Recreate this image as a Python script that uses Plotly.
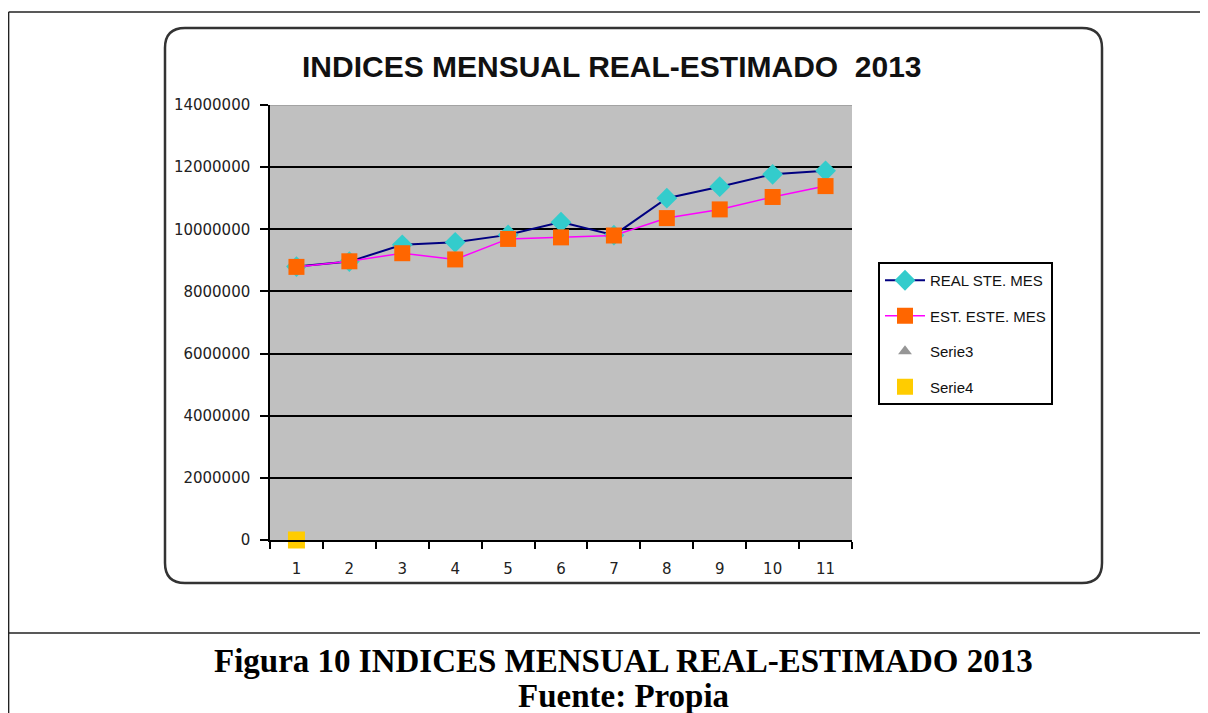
import plotly.graph_objects as go

# ---------------- data ----------------
months = ["1", "2", "3", "4", "5", "6", "7", "8", "9", "10", "11"]
real_ste_mes = [8800000, 8960000, 9500000, 9580000, 9820000, 10230000,
                9810000, 11000000, 11370000, 11770000, 11880000]
est_este_mes = [8790000, 8970000, 9230000, 9030000, 9690000, 9740000,
                9800000, 10360000, 10640000, 11040000, 11390000]
serie4_x = ["1"]
serie4_y = [0]
y_ticks = [0, 2000000, 4000000, 6000000, 8000000, 10000000, 12000000, 14000000]

title_text = "INDICES MENSUAL REAL-ESTIMADO  2013"
caption_1 = "Figura 10 INDICES MENSUAL REAL-ESTIMADO 2013"
caption_2 = "Fuente: Propia"

W, H = 1208, 713
OFF = 8  # page body margin offset


def px(x):
    return (x - OFF) / W


def py(y):
    return 1 - (y - OFF) / H


fig = go.Figure()

fig.add_trace(go.Scatter(
    x=months, y=real_ste_mes, name="REAL STE. MES", mode="lines+markers",
    line=dict(color="#000080", width=2),
    marker=dict(symbol="diamond", size=16, color="#33CCCC"),
    legendgroup="a", cliponaxis=False))
fig.add_trace(go.Scatter(
    x=months, y=est_este_mes, name="EST. ESTE. MES", mode="lines+markers",
    line=dict(color="#FF00FF", width=1.5),
    marker=dict(symbol="square", size=16, color="#FF6600"),
    legendgroup="b", cliponaxis=False))
fig.add_trace(go.Scatter(
    x=[None], y=[None], name="Serie3", mode="markers",
    marker=dict(symbol="triangle-up", size=12, color="#969696"),
    legendgroup="c"))
fig.add_trace(go.Scatter(
    x=serie4_x, y=serie4_y, name="Serie4", mode="markers",
    marker=dict(symbol="square", size=17, color="#FFCC00"),
    legendgroup="d", cliponaxis=False))

tick_font = dict(family="DejaVu Sans", size=15, color="#222222")

fig.update_xaxes(
    type="category", categoryorder="array", categoryarray=months,
    range=[-0.5, len(months) - 0.5],
    domain=[px(270), px(852)], automargin=False,
    tickson="boundaries", ticks="outside", ticklen=7, tickwidth=1.5,
    tickcolor="black", showline=True, linecolor="black", linewidth=1.5,
    showgrid=False, tickfont=tick_font, zeroline=False,
    ticklabelstandoff=14)
fig.update_yaxes(
    range=[0, 14000000], tickvals=y_ticks, tickformat="d",
    domain=[py(540), py(105)], automargin=False,
    ticks="outside", ticklen=8, tickwidth=1.5, tickcolor="black",
    showline=True, linecolor="black", linewidth=1.5,
    showgrid=True, gridcolor="black", gridwidth=1.6,
    zeroline=False, tickfont=tick_font, ticklabelstandoff=7)

# shapes: document table lines and rounded chart frame
r = 20
x0, x1, y0, y1 = 165, 1102, 28, 583
frame_path = (
    f"M {px(x0 + r)} {py(y0)} L {px(x1 - r)} {py(y0)} "
    f"Q {px(x1)} {py(y0)} {px(x1)} {py(y0 + r)} "
    f"L {px(x1)} {py(y1 - r)} Q {px(x1)} {py(y1)} {px(x1 - r)} {py(y1)} "
    f"L {px(x0 + r)} {py(y1)} Q {px(x0)} {py(y1)} {px(x0)} {py(y1 - r)} "
    f"L {px(x0)} {py(y0 + r)} Q {px(x0)} {py(y0)} {px(x0 + r)} {py(y0)} Z"
)

shapes = [
    dict(type="line", xref="paper", yref="paper", x0=0.0005, x1=1.0,
         y0=py(12), y1=py(12), line=dict(color="#222222", width=1.5)),
    dict(type="line", xref="paper", yref="paper", x0=0.0005, x1=0.0005,
         y0=py(12), y1=0, line=dict(color="#222222", width=1.5)),
    dict(type="line", xref="paper", yref="paper", x0=0.0005, x1=1.0,
         y0=py(633), y1=py(633), line=dict(color="#222222", width=1.5)),
    dict(type="path", xref="paper", yref="paper", path=frame_path,
         line=dict(color="#333333", width=2.5)),
    # light top border of the plot area (replaces the black top gridline)
    dict(type="line", xref="paper", yref="y", x0=px(270), x1=px(852),
         y0=y_ticks[-1], y1=y_ticks[-1], layer="above",
         line=dict(color="#9a9a9a", width=1.6)),
]

annotations = [
    dict(text=f"<b>{title_text}</b>", xref="paper", yref="paper",
         x=px(612), y=py(66), xanchor="center", yanchor="middle",
         showarrow=False,
         font=dict(family="Liberation Sans", size=30, color="#111111")),
    dict(text=f"<b>{caption_1}</b>", xref="paper", yref="paper",
         x=px(623), y=py(661), xanchor="center", yanchor="middle",
         showarrow=False,
         font=dict(family="Liberation Serif", size=33, color="black")),
    dict(text=f"<b>{caption_2}</b>", xref="paper", yref="paper",
         x=px(623), y=py(696), xanchor="center", yanchor="middle",
         showarrow=False,
         font=dict(family="Liberation Serif", size=33, color="black")),
]

fig.update_layout(
    width=W, height=H,
    margin=dict(l=0, r=0, t=0, b=0, pad=0, autoexpand=False),
    paper_bgcolor="white", plot_bgcolor="#C0C0C0",
    shapes=shapes, annotations=annotations,
    showlegend=True,
    legend=dict(x=px(878), y=py(262), xanchor="left", yanchor="top",
                bgcolor="white", bordercolor="black", borderwidth=2,
                font=dict(family="Liberation Sans", size=15, color="#111111"),
                tracegroupgap=13, itemwidth=40),
)

fig.write_html("out.html")
